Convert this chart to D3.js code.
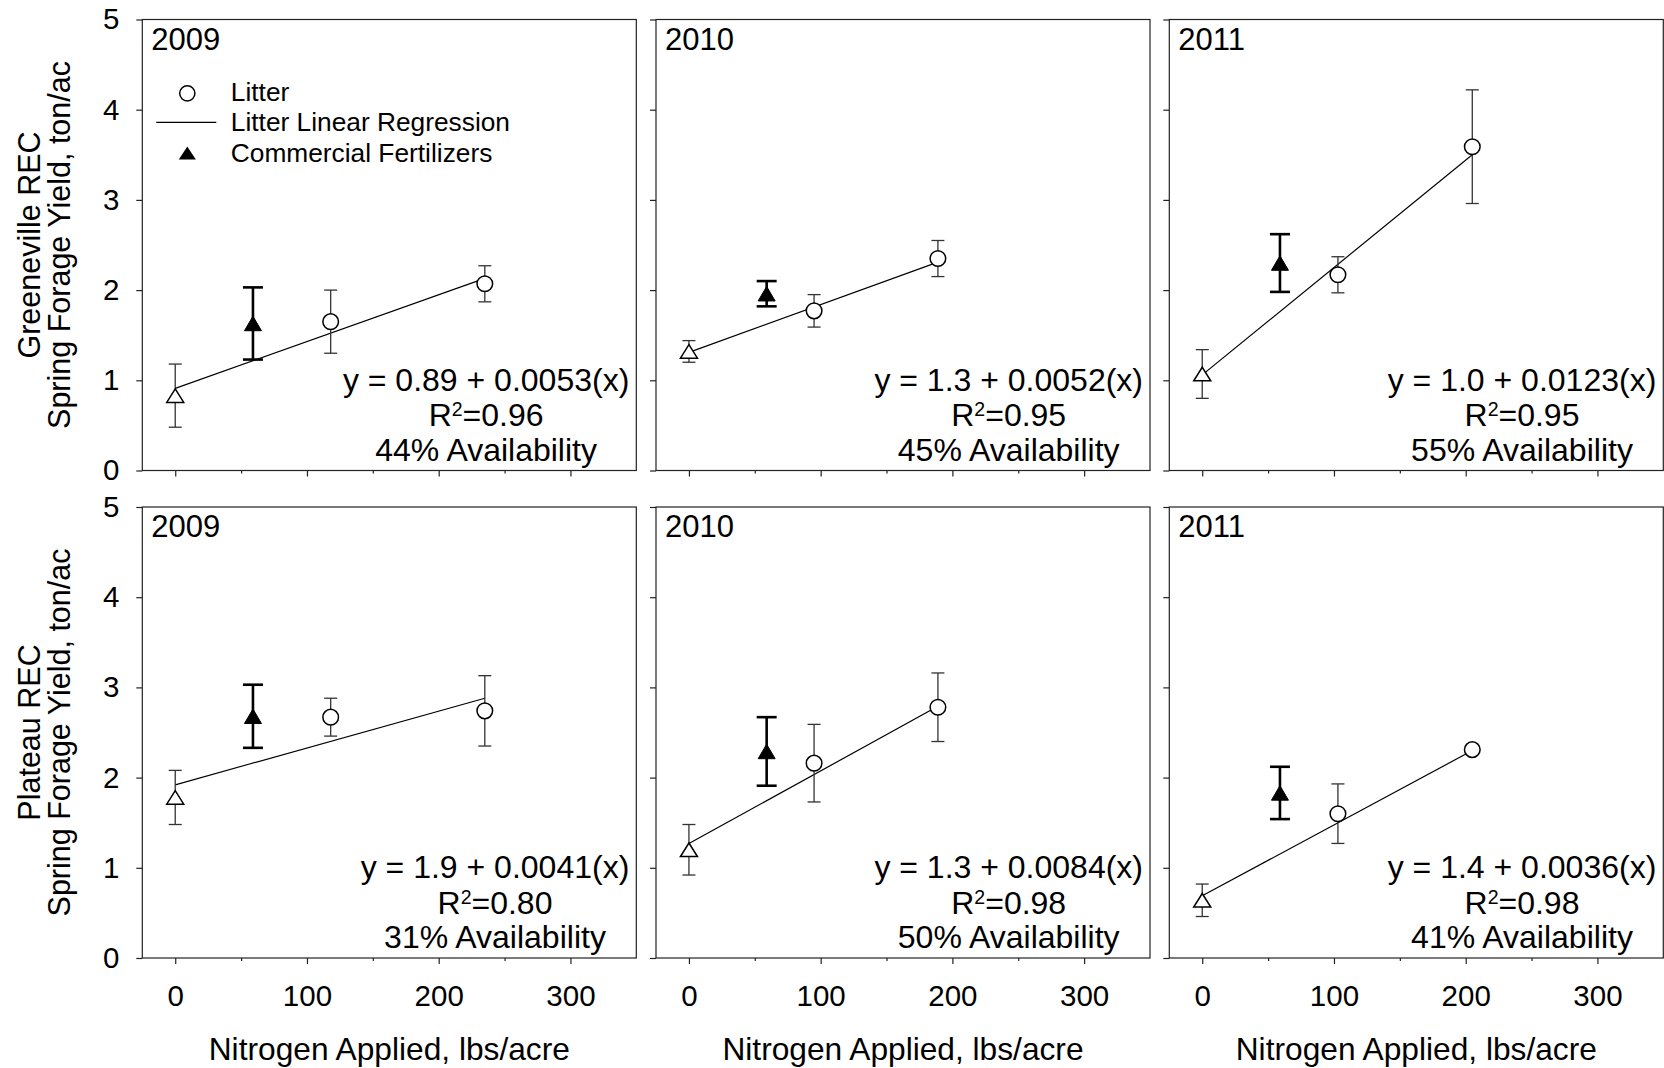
<!DOCTYPE html>
<html><head><meta charset="utf-8">
<script src="https://cdn.jsdelivr.net/npm/d3@7"></script>
<style>
body{margin:0;background:#fff;}
svg{display:block;}
text{font-family:"Liberation Sans", Arial, Helvetica, sans-serif; fill:#000;}
</style></head><body>
<svg id="chart" width="1664" height="1068"></svg>
<script>
// ---------------- DATA ----------------
const sites = ["Greeneville REC", "Plateau REC"];
const years = ["2009", "2010", "2011"];
const xTickLabels = [0, 100, 200, 300];
const xMinorTicks = [50, 150, 250];
const yTickLabels = [0, 1, 2, 3, 4, 5];

// Control (0 N) – open triangle
const controlY   = [[0.83, 1.32, 1.07], [1.78, 1.20, 0.64]];
const controlErr = [[0.35, 0.12, 0.27], [0.30, 0.28, 0.18]];

// Commercial fertilizers – filled triangle
const fertX   = [[59, 59, 59], [59, 59, 59]];
const fertY   = [[1.63, 1.96, 2.30], [2.68, 2.29, 1.83]];
const fertErr = [[0.40, 0.14, 0.32], [0.35, 0.38, 0.29]];

// Litter – open circles (two rates per panel)
const litterX = [[[118, 235], [95, 189], [103, 205]], [[118, 235], [95, 189], [103, 205]]];
const litterY = [[[1.65, 2.07], [1.77, 2.35], [2.17, 3.59]], [[2.67, 2.74], [2.16, 2.78], [1.60, 2.31]]];
const litterErr = [[[0.35, 0.20], [0.18, 0.20], [0.20, 0.63]], [[0.21, 0.39], [0.43, 0.38], [0.33, 0]]];

// Litter linear regression line (value at N = 0 and at the highest litter rate)
const fitStartY = [[0.91, 1.31, 1.06], [1.92, 1.27, 0.69]];
const fitEndY   = [[2.13, 2.31, 3.50], [2.88, 2.79, 2.30]];

const equations = [["y = 0.89 + 0.0053(x)", "y = 1.3 + 0.0052(x)", "y = 1.0 + 0.0123(x)"],
                   ["y = 1.9 + 0.0041(x)", "y = 1.3 + 0.0084(x)", "y = 1.4 + 0.0036(x)"]];
const rSquared = [["0.96", "0.95", "0.95"], ["0.80", "0.98", "0.98"]];
const availability = [["44%", "45%", "55%"], ["31%", "50%", "41%"]];

const legendLabels = ["Litter", "Litter Linear Regression", "Commercial Fertilizers"];
const xTitle = "Nitrogen Applied, lbs/acre";
const yTitle2 = "Spring Forage Yield, ton/ac";

// ---------------- LAYOUT ----------------
const colLeft = [142.3, 656, 1169.3], panelW = 494;
const rowTop = [19.5, 507], panelH = 451;
const axisColor = "#222";

const svg = d3.select("#chart");
const x = d3.scaleLinear().domain([-25, 350]).range([0, panelW]);
const y = d3.scaleLinear().domain([0, 5]).range([panelH, 0]);

function triPath(w, h) {
  return `M0,${-h / 2}L${w / 2},${h / 2}L${-w / 2},${h / 2}Z`;
}

function errorBar(g, xv, yv, ev, capW, sw, col) {
  if (!ev) return;
  const xp = x(xv), y1 = y(yv + ev), y2 = y(yv - ev);
  const eb = g.append("g").attr("stroke", col).attr("stroke-width", sw).attr("fill", "none");
  eb.append("line").attr("x1", xp).attr("x2", xp).attr("y1", y1).attr("y2", y2);
  eb.append("line").attr("x1", xp - capW / 2).attr("x2", xp + capW / 2).attr("y1", y1).attr("y2", y1);
  eb.append("line").attr("x1", xp - capW / 2).attr("x2", xp + capW / 2).attr("y1", y2).attr("y2", y2);
}

sites.forEach((site, r) => {
  years.forEach((yr, c) => {
    const g = svg.append("g").attr("transform", `translate(${colLeft[c]},${rowTop[r]})`);

    // y axis
    const ya = g.append("g").attr("color", axisColor)
      .call(d3.axisLeft(y).tickValues(yTickLabels).tickSize(6).tickSizeOuter(0).tickPadding(17)
        .tickFormat(c === 0 ? d3.format("d") : () => ""));
    ya.select(".domain").remove();
    ya.selectAll("line").attr("stroke-width", 1.2);
    ya.selectAll("text").attr("font-size", null).style("font-size", "29.5px").attr("fill", "#000")
      .attr("font-family", null);

    // x axis (major)
    const xa = g.append("g").attr("color", axisColor).attr("transform", `translate(0,${panelH})`)
      .call(d3.axisBottom(x).tickValues(xTickLabels).tickSize(6).tickSizeOuter(0)
        .tickFormat(r === 1 ? d3.format("d") : () => ""));
    xa.select(".domain").remove();
    xa.selectAll("line").attr("stroke-width", 1.2);
    xa.selectAll("text").attr("font-size", null).style("font-size", "29.5px").attr("fill", "#000")
      .attr("font-family", null).attr("y", 48).attr("dy", null);
    // x axis (minor)
    const xm = g.append("g").attr("color", axisColor).attr("transform", `translate(0,${panelH})`)
      .call(d3.axisBottom(x).tickValues(xMinorTicks).tickSize(3).tickSizeOuter(0).tickFormat(() => ""));
    xm.select(".domain").remove();
    xm.selectAll("line").attr("stroke-width", 1.2);

    // frame
    g.append("rect").attr("x", 0).attr("y", 0).attr("width", panelW).attr("height", panelH)
      .attr("fill", "none").attr("stroke", axisColor).attr("stroke-width", 1.2);

    // year label
    g.append("text").attr("x", 9).attr("y", 30).style("font-size", "31px").text(yr);

    // regression line
    const lx = litterX[r][c];
    g.append("line")
      .attr("x1", x(0)).attr("y1", y(fitStartY[r][c]))
      .attr("x2", x(lx[lx.length - 1])).attr("y2", y(fitEndY[r][c]))
      .attr("stroke", "#000").attr("stroke-width", 1.2);

    // error bars
    errorBar(g, 0, controlY[r][c], controlErr[r][c], 13, 1.3, "#333");
    lx.forEach((xv, i) => errorBar(g, xv, litterY[r][c][i], litterErr[r][c][i], 13, 1.3, "#333"));
    errorBar(g, fertX[r][c], fertY[r][c], fertErr[r][c], 20, 2.6, "#000");

    // markers
    g.append("path").attr("d", triPath(17, 13.5))
      .attr("transform", `translate(${x(0)},${y(controlY[r][c])})`)
      .attr("fill", "#fff").attr("stroke", "#000").attr("stroke-width", 1.5);
    lx.forEach((xv, i) => {
      g.append("circle").attr("cx", x(xv)).attr("cy", y(litterY[r][c][i])).attr("r", 7.8)
        .attr("fill", "#fff").attr("stroke", "#000").attr("stroke-width", 1.5);
    });
    g.append("path").attr("d", triPath(17, 14.5))
      .attr("transform", `translate(${x(fertX[r][c])},${y(fertY[r][c])})`)
      .attr("fill", "#000").attr("stroke", "#000").attr("stroke-width", 1);

    // equation block
    const eq = g.append("g").style("font-size", "32px");
    const t1 = eq.append("text").attr("y", panelH - 80).text(equations[r][c]);
    const w = t1.node().getComputedTextLength();
    const cx = panelW - 7 - w / 2;
    t1.attr("x", cx).attr("text-anchor", "middle");
    const t2 = eq.append("text").attr("x", cx).attr("y", panelH - 44.5).attr("text-anchor", "middle");
    t2.append("tspan").text("R");
    t2.append("tspan").attr("dy", -10).style("font-size", "19.5px").text("2");
    t2.append("tspan").attr("dy", 10).text("=" + rSquared[r][c]);
    eq.append("text").attr("x", cx).attr("y", panelH - 10).attr("text-anchor", "middle")
      .text(availability[r][c] + " Availability");

    // legend (first panel only)
    if (r === 0 && c === 0) {
      const lg = g.append("g");
      lg.append("circle").attr("cx", 45).attr("cy", 73.8).attr("r", 7.6)
        .attr("fill", "#fff").attr("stroke", "#000").attr("stroke-width", 1.5);
      lg.append("line").attr("x1", 14).attr("x2", 74).attr("y1", 102.8).attr("y2", 102.8)
        .attr("stroke", "#000").attr("stroke-width", 1.2);
      lg.append("path").attr("d", triPath(17, 13)).attr("transform", "translate(45,133.5)").attr("fill", "#000");
      const ly = [81.5, 111.8, 142.3];
      legendLabels.forEach((lab, i) => {
        lg.append("text").attr("x", 88.5).attr("y", ly[i]).style("font-size", "26.3px").text(lab);
      });
    }

    // x title
    if (r === 1) {
      svg.append("text").attr("x", colLeft[c] + panelW / 2).attr("y", 1060)
        .attr("text-anchor", "middle").style("font-size", "31.7px").text(xTitle);
    }
  });

  // y titles
  const cy = rowTop[r] + panelH / 2;
  svg.append("text").attr("transform", `translate(40,${cy}) rotate(-90)`)
    .attr("text-anchor", "middle").style("font-size", "30.5px").text(site);
  svg.append("text").attr("transform", `translate(70,${cy}) rotate(-90)`)
    .attr("text-anchor", "middle").style("font-size", "30.5px").text(yTitle2);
});
</script>
</body></html>
